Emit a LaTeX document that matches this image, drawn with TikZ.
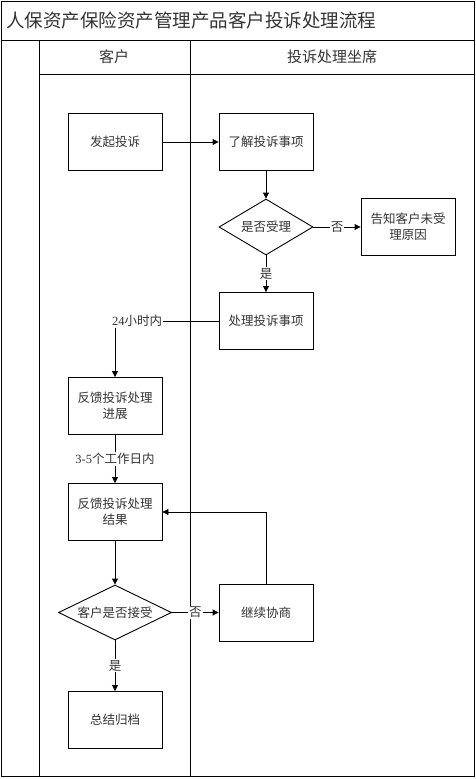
\documentclass[tikz,border=0pt]{standalone}
\usepackage{fontspec}
\setmainfont{Liberation Serif}
\newfontfamily\cjk{Noto Sans CJK SC}
\usetikzlibrary{shapes.geometric,arrows.meta}
\definecolor{txtgray}{HTML}{333333}
\newcommand{\boxfont}{\fontsize{12.5}{16}\selectfont\cjk}
\begin{document}
\begin{tikzpicture}[x=1pt,y=-1pt,
  line/.style={draw=black, line width=0.9pt},
  proc/.style={draw=black, line width=0.9pt, minimum width=94pt, minimum height=57pt, inner sep=0pt, align=center, font=\boxfont, text=txtgray},
  dec/.style={diamond, draw=black, line width=0.9pt, inner sep=0pt, align=center, font=\boxfont, text=txtgray},
  arr/.style={line width=0.9pt, -{Triangle[length=6pt,width=6pt]}},
  plain/.style={line width=0.9pt},
  lbl/.style={fill=white, inner sep=1pt, font=\boxfont, text=txtgray},
  head/.style={font=\fontsize{15}{17}\selectfont\cjk, text=txtgray}]
\useasboundingbox (0,0) rectangle (476,779);
% swimlane frame
\draw[line] (1,1) rectangle (474,776);
\draw[line] (1,40) -- (474,40);
\draw[line] (39,40) -- (39,776);
\draw[line] (190,40) -- (190,776);
\draw[line] (39,74) -- (474,74);
\node[anchor=west, font=\fontsize{18.5}{20}\selectfont\cjk, text=txtgray, inner sep=0pt] (title) at (6,20) {人保资产保险资产管理产品客户投诉处理流程};
\node[head] (h1) at (114,57) {客户};
\node[head] (h2) at (332,57) {投诉处理坐席};
% nodes
\node[proc] (faqi) at (115,142) {发起投诉};
\node[proc] (liaojie) at (266,142) {了解投诉事项};
\node[dec, aspect=1.68, minimum width=94pt, minimum height=56pt] (d1) at (266,227) {是否受理};
\node[proc] (gaozhi) at (408,227) {告知客户未受\\理原因};
\node[proc] (chuli) at (266,321) {处理投诉事项};
\node[lbl, fill=none, anchor=west] (l24) at (111,321) {{\rmfamily 24}小时内};
\node[proc] (jinzhan) at (115,406) {反馈投诉处理\\进展};
\node[proc] (jieguo) at (115,512) {反馈投诉处理\\结果};
\node[dec, aspect=2.05, minimum width=113pt, minimum height=55pt] (d2) at (115,612.5) {客户是否接受};
\node[proc] (xieshang) at (266,612.5) {继续协商};
\node[proc] (zongjie) at (115,720) {总结归档};
% connectors
\draw[arr] (faqi) -- (liaojie);
\draw[arr] (liaojie) -- (d1);
\draw[arr] (d1) -- node[lbl]{否} (gaozhi);
\draw[arr] (d1) -- node[lbl]{是} (chuli);
\draw[plain] (chuli.west) -- (l24.east);
\draw[arr] (l24.south -| jinzhan.north) -- (jinzhan.north);
\draw[arr] (jinzhan) -- node[lbl]{{\rmfamily 3-5}个工作日内} (jieguo);
\draw[arr] (jieguo) -- (d2);
\draw[arr] (d2) -- node[lbl]{否} (xieshang);
\draw[arr] (d2) -- node[lbl]{是} (zongjie);
\draw[arr] (xieshang.north) |- (jieguo.east);
\end{tikzpicture}
\end{document}
